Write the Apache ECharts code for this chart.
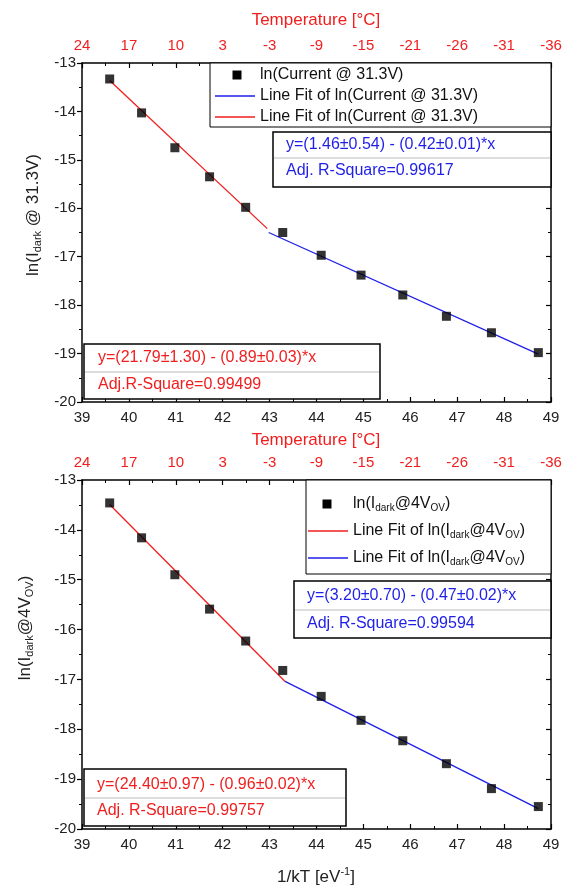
<!DOCTYPE html>
<html><head><meta charset="utf-8">
<script src="https://cdn.jsdelivr.net/npm/echarts@6/dist/echarts.min.js"></script>
<style>html,body{margin:0;padding:0;background:#fff}#c{width:568px;height:887px}</style>
</head><body><div id="c"></div>
<script>
// ---- data ----
const invKT = [39.59, 40.27, 40.98, 41.72, 42.49, 43.28, 44.10, 44.95, 45.84, 46.77, 47.73, 48.73];
const lnI313 = [-13.33, -14.03, -14.75, -15.35, -15.98, -16.50, -16.97, -17.38, -17.79, -18.23, -18.57, -18.98];
const lnI4ov = [-13.46, -14.16, -14.90, -15.59, -16.23, -16.82, -17.34, -17.82, -18.23, -18.69, -19.19, -19.55];
const fit1RedX = [39.59, 42.95], fit1RedY = [-13.36, -16.42];
const fit1BlueX = [42.98, 48.73], fit1BlueY = [-16.50, -19.01];
const fit2RedX = [39.59, 43.33], fit2RedY = [-13.49, -17.04];
const fit2BlueX = [43.33, 48.73], fit2BlueY = [-17.04, -19.59];
const tempLabels = ['24', '17', '10', '3', '-3', '-9', '-15', '-21', '-26', '-31', '-36'];

const RED = '#f01e1e', BLUE = '#1f1fe8', FONT = 'Liberation Sans, Arial, sans-serif';
const zip = (xs, ys) => xs.map((x, i) => [x, ys[i]]);

const grids = [
  {left: 82, right: 17, top: 63, height: 339},
  {left: 82, right: 17, top: 480, height: 349}
].map(g => Object.assign({containLabel: false, outerBoundsMode: 'none'}, g));

const axLine = {show: true, onZero: false, lineStyle: {color: '#000', width: 1.5}};
function xAxes(gi) {
  return [
    {type: 'value', gridIndex: gi, position: 'bottom', min: 39, max: 49, interval: 1,
     axisLine: axLine, axisTick: {inside: true, length: 5, lineStyle: {color: '#000', width: 1.2}},
     minorTick: {show: true, splitNumber: 2, length: 3, lineStyle: {color: '#000'}},
     splitLine: {show: false},
     axisLabel: {color: '#222', fontSize: 15, fontFamily: FONT, margin: 8}},
    {type: 'value', gridIndex: gi, position: 'top', min: 39, max: 49, interval: 1,
     axisLine: axLine, axisTick: {inside: true, length: 5, lineStyle: {color: '#000', width: 1.2}},
     minorTick: {show: true, splitNumber: 2, length: 3, lineStyle: {color: '#000'}},
     splitLine: {show: false},
     axisLabel: {color: RED, fontSize: 15, fontFamily: FONT, margin: 10,
       formatter: v => tempLabels[Math.round(v - 39)] ?? ''}}
  ];
}
function yAxes(gi) {
  return [
    {type: 'value', gridIndex: gi, position: 'left', min: -20, max: -13, interval: 1,
     axisLine: axLine, axisTick: {inside: false, length: 5, lineStyle: {color: '#000', width: 1.2}},
     minorTick: {show: true, splitNumber: 2, length: 3, lineStyle: {color: '#000'}},
     splitLine: {show: false},
     axisLabel: {color: '#222', fontSize: 15, fontFamily: FONT, margin: 6}},
    {type: 'value', gridIndex: gi, position: 'right', min: -20, max: -13, interval: 1,
     axisLine: axLine, axisTick: {inside: true, length: 5, lineStyle: {color: '#000', width: 1.2}},
     minorTick: {show: true, splitNumber: 2, length: 3, lineStyle: {color: '#000'}},
     splitLine: {show: false}, axisLabel: {show: false}}
  ];
}

function lineSeries(name, xi, yi, data, color) {
  return {name, type: 'line', xAxisIndex: xi, yAxisIndex: yi, data, showSymbol: false,
    symbol: 'none', lineStyle: {color, width: 1.3}, z: 2, silent: true};
}
function scatter(name, xi, yi, data) {
  return {name, type: 'scatter', xAxisIndex: xi, yAxisIndex: yi, data, symbol: 'rect',
    symbolSize: 9, itemStyle: {color: '#000'}, z: 3};
}

// ---- graphic helpers (legends, fit boxes, titles) ----
const rich = {
  n: {fontSize: 16, fontFamily: FONT},
  s: {fontSize: 10, fontFamily: FONT, padding: [9, 0, 0, 0]},
  p: {fontSize: 10, fontFamily: FONT, padding: [0, 0, 9, 0]},
  t: {fontSize: 17, fontFamily: FONT},
  ts: {fontSize: 11, fontFamily: FONT, padding: [10, 0, 0, 0]},
  tp: {fontSize: 11, fontFamily: FONT, padding: [0, 0, 10, 0]}
};
function T(x, y, text, color, opts) {
  return Object.assign({type: 'text', x, y, z: 20,
    style: Object.assign({text, fill: color, font: '16px ' + FONT, rich,
      align: 'left', verticalAlign: 'middle'}, (opts && opts.style) || {})},
    opts && opts.rotation !== undefined ? {rotation: opts.rotation} : {});
}
function rect(x, y, w, h, lw) {
  return {type: 'rect', z: 15, shape: {x, y, width: w, height: h},
    style: {fill: '#fff', stroke: '#000', lineWidth: lw}};
}
function hline(x1, x2, y, color, lw) {
  return {type: 'line', z: 16, shape: {x1, y1: y, x2, y2: y}, style: {stroke: color, lineWidth: lw}};
}
function sym(cx, cy) {
  return {type: 'rect', z: 16, shape: {x: cx - 4.5, y: cy - 4.5, width: 9, height: 9}, style: {fill: '#000'}};
}

const graphics = [
  // titles
  T(316, 20, 'Temperature [°C]', RED, {style: {align: 'center', font: '17px ' + FONT}}),
  T(316, 440, 'Temperature [°C]', RED, {style: {align: 'center', font: '17px ' + FONT}}),
  T(316, 877, '{t|1/kT [eV}{tp|-1}{t|]}', '#222', {style: {align: 'center'}}),
  T(33, 215, '{t|ln(I}{ts|dark}{t| @ 31.3V)}', '#222', {rotation: Math.PI / 2, style: {align: 'center'}}),
  T(25, 628, '{t|ln(I}{ts|dark}{t|@4V}{ts|OV}{t|)}', '#222', {rotation: Math.PI / 2, style: {align: 'center'}}),
  // panel 1 legend
  rect(210, 63, 341, 64, 1),
  sym(237, 75), T(260, 75, 'ln(Current @ 31.3V)', '#111'),
  hline(215, 255, 96, BLUE, 1.3), T(260, 96, 'Line Fit of ln(Current @ 31.3V)', '#111'),
  hline(215, 255, 117, RED, 1.3), T(260, 117, 'Line Fit of ln(Current @ 31.3V)', '#111'),
  // panel 1 blue fit box
  rect(273, 132, 278, 55, 1.5), hline(274, 550, 158, '#bbb', 1),
  T(286, 145, 'y=(1.46±0.54) - (0.42±0.01)*x', BLUE), T(286, 171, 'Adj. R-Square=0.99617', BLUE),
  // panel 1 red fit box
  rect(84, 344, 296, 55, 1.5), hline(85, 379, 372, '#bbb', 1),
  T(98, 358, 'y=(21.79±1.30) - (0.89±0.03)*x', RED), T(98, 385, 'Adj.R-Square=0.99499', RED),
  // panel 2 legend
  rect(306, 480, 245, 94, 1),
  sym(327, 504), T(353, 504, '{n|ln(I}{s|dark}{n|@4V}{s|OV}{n|)}', '#111'),
  hline(308, 348, 531, RED, 1.3), T(353, 531, '{n|Line Fit of ln(I}{s|dark}{n|@4V}{s|OV}{n|)}', '#111'),
  hline(308, 348, 558, BLUE, 1.3), T(353, 558, '{n|Line Fit of ln(I}{s|dark}{n|@4V}{s|OV}{n|)}', '#111'),
  // panel 2 blue fit box
  rect(294, 581, 257, 57, 1.5), hline(295, 550, 610, '#bbb', 1),
  T(307, 596, 'y=(3.20±0.70) - (0.47±0.02)*x', BLUE), T(307, 624, 'Adj. R-Square=0.99594', BLUE),
  // panel 2 red fit box
  rect(84, 769, 262, 57, 1.5), hline(85, 345, 798, '#bbb', 1),
  T(97, 785, 'y=(24.40±0.97) - (0.96±0.02)*x', RED), T(97, 811, 'Adj. R-Square=0.99757', RED)
];

const chart = echarts.init(document.getElementById('c'), null, {renderer: 'canvas'});
chart.setOption({
  animation: false,
  backgroundColor: '#fff',
  grid: grids,
  xAxis: [...xAxes(0), ...xAxes(1)],
  yAxis: [...yAxes(0), ...yAxes(1)],
  series: [
    lineSeries('Line Fit of ln(Current @ 31.3V) (red)', 0, 0, zip(fit1RedX, fit1RedY), RED),
    lineSeries('Line Fit of ln(Current @ 31.3V) (blue)', 0, 0, zip(fit1BlueX, fit1BlueY), BLUE),
    scatter('ln(Current @ 31.3V)', 0, 0, zip(invKT, lnI313)),
    lineSeries('Line Fit of ln(Idark@4VOV) (red)', 2, 2, zip(fit2RedX, fit2RedY), RED),
    lineSeries('Line Fit of ln(Idark@4VOV) (blue)', 2, 2, zip(fit2BlueX, fit2BlueY), BLUE),
    scatter('ln(Idark@4VOV)', 2, 2, zip(invKT, lnI4ov))
  ],
  graphic: graphics
});
</script></body></html>
